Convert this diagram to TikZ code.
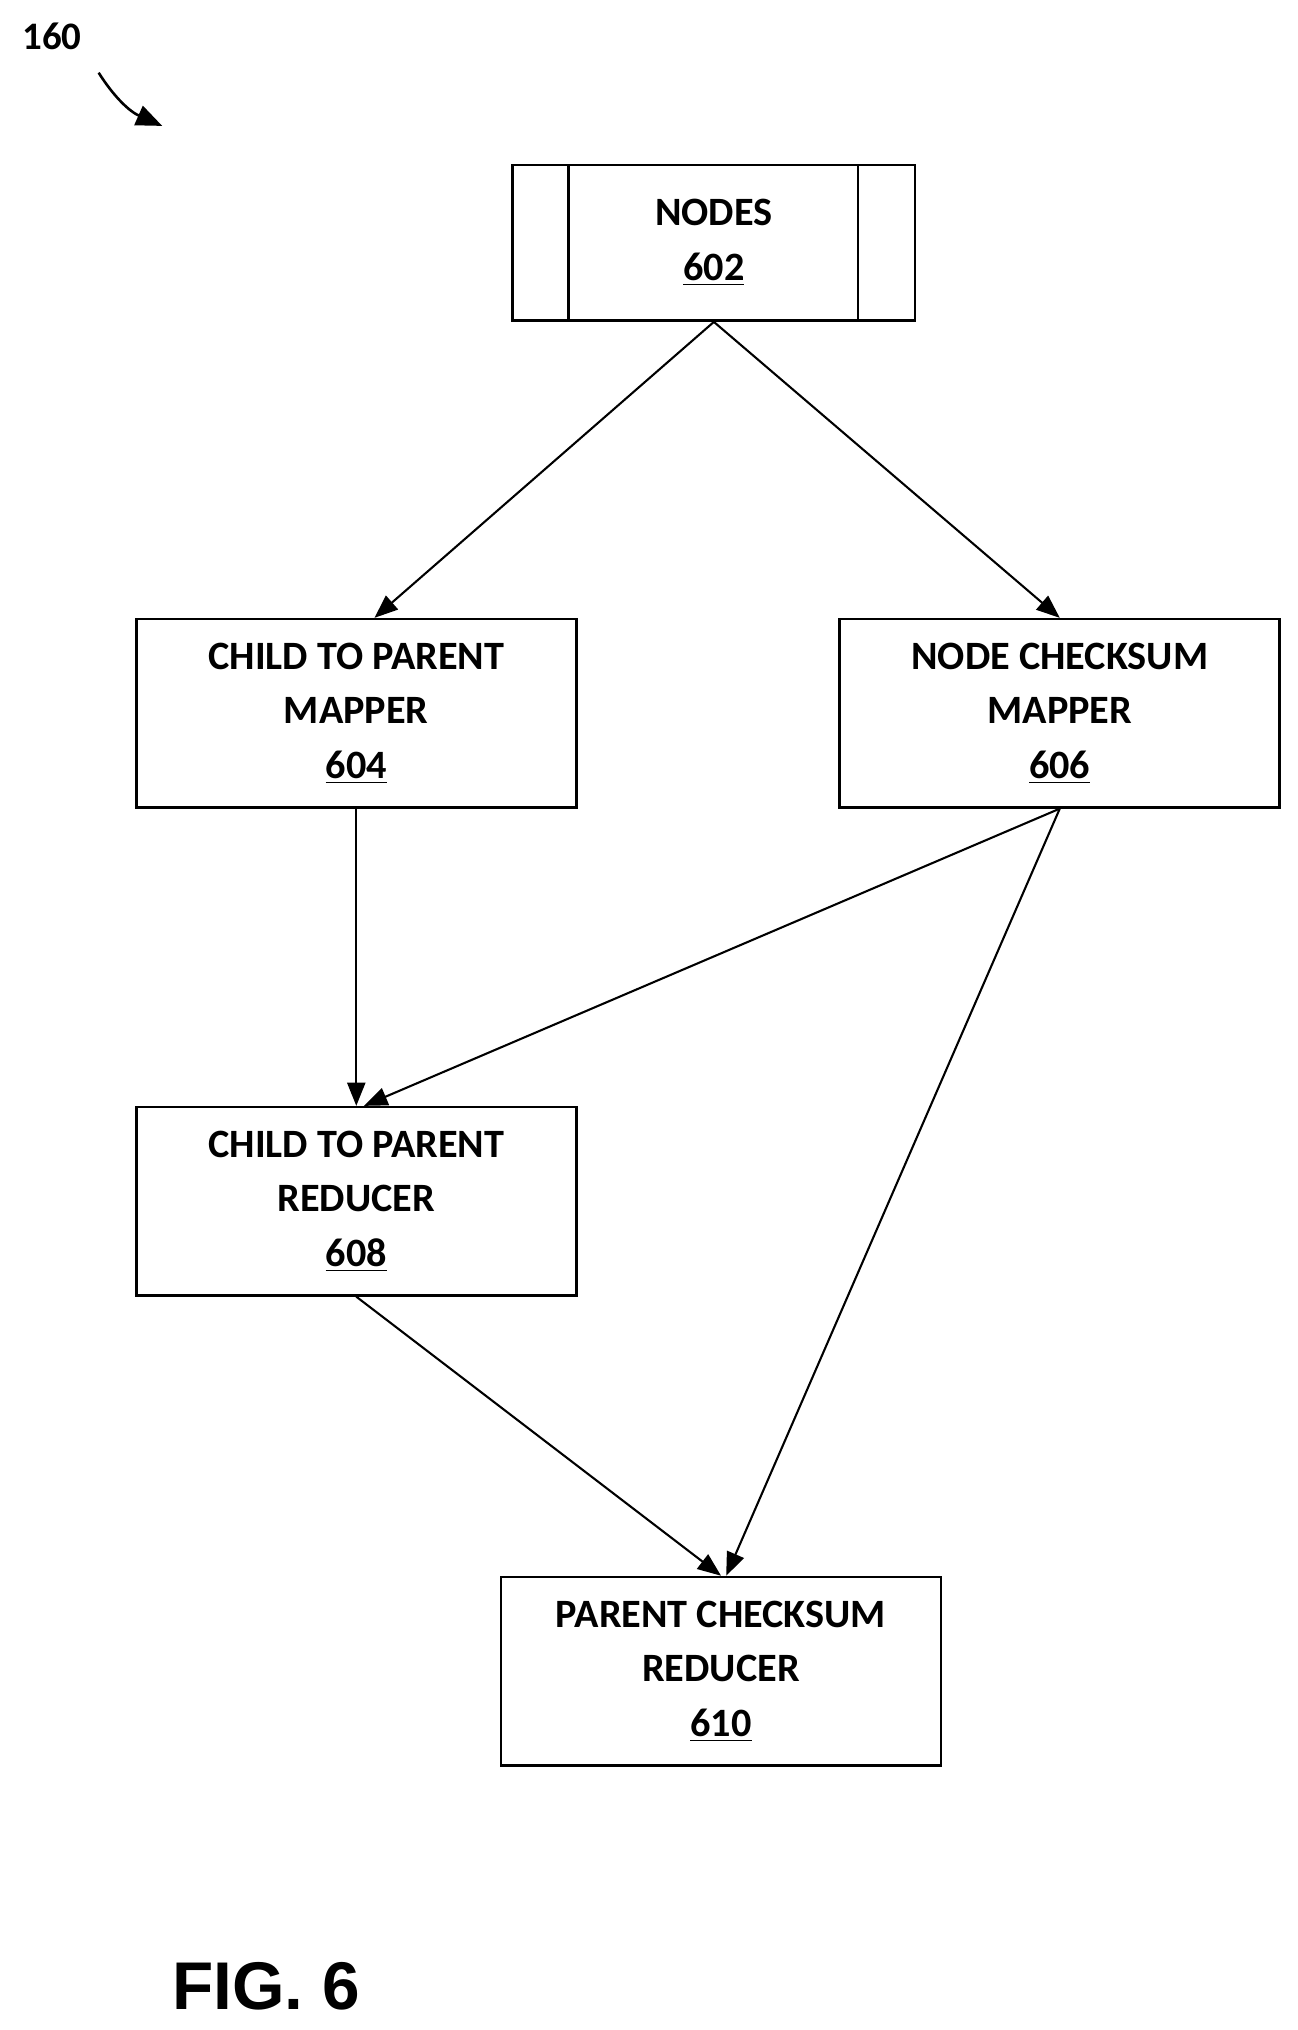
\documentclass[tikz,border=0pt]{standalone}
\usepackage{fontspec}
\setmainfont{Carlito}
\usetikzlibrary{arrows.meta}
\tikzset{
  box/.style={draw, line width=1pt, minimum width=169.5pt, minimum height=72.5pt,
    align=center, font=\fontsize{15.5}{21}\selectfont\bfseries, inner sep=0pt},
  link/.style={line width=0.8pt, -{Triangle[length=9pt,width=7pt]}}
}
\begin{document}
\begin{tikzpicture}[x=0.5pt,y=-0.5pt]
\useasboundingbox (0,0) rectangle (1000,1564);
\node[box, minimum width=155pt, minimum height=60pt] (n602) at (550,187) {NODES\\\underline{602}};
\draw[line width=1pt] (438,127) -- (438,247) (661,127) -- (661,247);
\node[box] (n604) at (274.5,549.5) {CHILD TO PARENT\\MAPPER\\\underline{604}};
\node[box] (n606) at (816.5,549.5) {NODE CHECKSUM\\MAPPER\\\underline{606}};
\node[box] (n608) at (274.5,925.5) {CHILD TO PARENT\\REDUCER\\\underline{608}};
\node[box] (n610) at (555.5,1287.5) {PARENT CHECKSUM\\REDUCER\\\underline{610}};
\draw[link] (n602.south) -- ([xshift=7pt]n604.north);
\draw[link] (n602.south) -- (n606.north);
\draw[link] (n604.south) -- (n608.north);
\draw[link] (n606.south) -- ([xshift=3pt]n608.north);
\draw[link] (n606.south) -- ([xshift=2pt]n610.north);
\draw[link] (n608.south) -- (n610.north);
% figure labels
\node[font=\fontsize{15}{18}\selectfont\bfseries] (ref) at (40,28) {160};
\draw[line width=1pt, -{Triangle[length=10pt,width=8pt]}] (76,56) .. controls (88,75) and (100,86) .. (125,97);
\node[font=\fontsize{26}{30}\selectfont\bfseries\fontspec{Liberation Sans}] (fig) at (205,1530) {FIG. 6};
\end{tikzpicture}
\end{document}
